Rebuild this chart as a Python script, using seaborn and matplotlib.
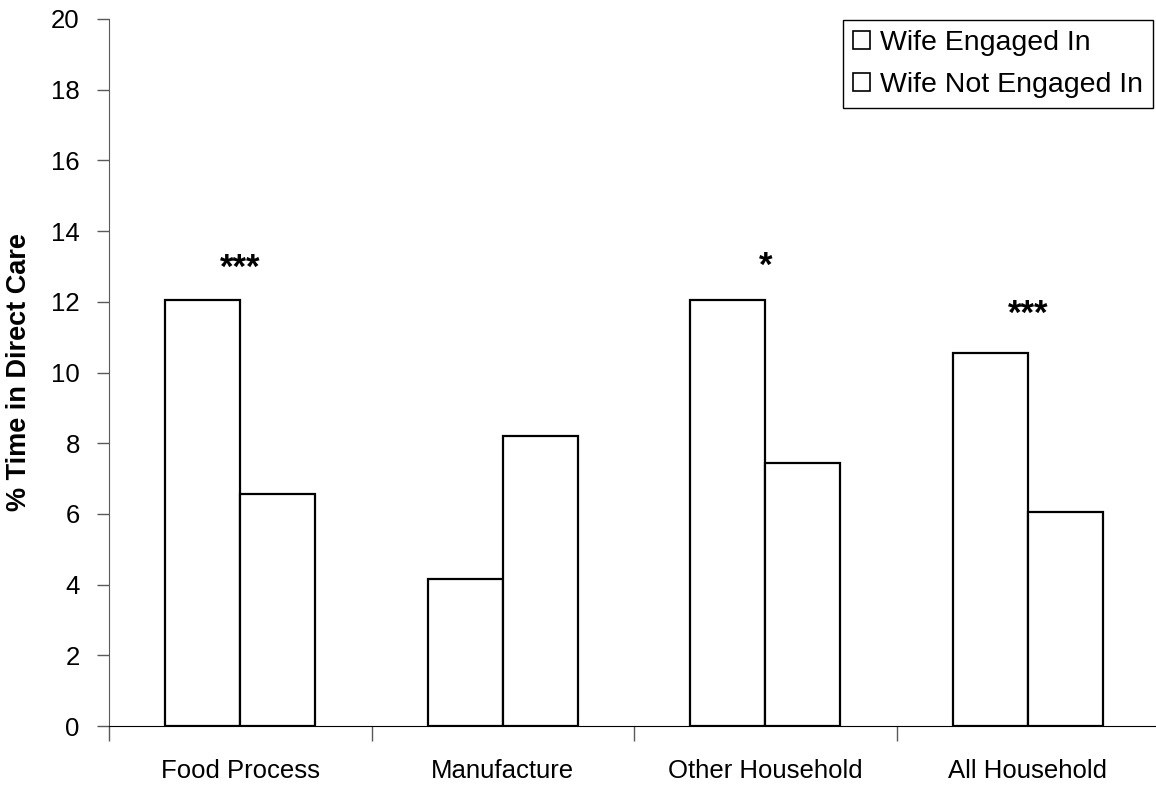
import matplotlib
matplotlib.use("Agg")
import matplotlib.pyplot as plt
from matplotlib.patches import Patch
import pandas as pd
import seaborn as sns

# values
activities = ["Food Process", "Manufacture", "Other Household", "All Household"]
engaged = [12.05, 4.15, 12.05, 10.55]
not_engaged = [6.55, 8.2, 7.45, 6.05]
series = ["Wife Engaged In", "Wife Not Engaged In"]
stars = ["***", "", "*", "***"]
star_y = [12.95, 0, 13.0, 11.65]

sns.set_style("white")
plt.rcParams["font.family"] = ["Liberation Sans", "DejaVu Sans"]
plt.rcParams["text.color"] = "black"
plt.rcParams["xtick.color"] = "black"
plt.rcParams["ytick.color"] = "black"
plt.rcParams["axes.labelcolor"] = "black"

df = pd.DataFrame({
    "activity": activities * 2,
    "pct": engaged + not_engaged,
    "wife": [series[0]] * 4 + [series[1]] * 4,
})

fig = plt.figure(figsize=(11.56, 7.9), dpi=100)
ax = fig.add_axes([109 / 1156, 64 / 790, 1050 / 1156, 707 / 790])
sns.barplot(data=df, x="activity", y="pct", hue="wife", order=activities,
            hue_order=series, palette=["white", "white"], saturation=1,
            edgecolor="black", linewidth=1.6, width=0.57, ax=ax)
ax.get_legend().remove()

# significance markers
for i, s in enumerate(stars):
    if s:
        ax.text(i, star_y[i], s, ha="center", va="center", fontsize=25,
                fontweight="bold")

ax.set_xlim(-0.5, 3.5)
ax.set_ylim(0, 20)
ax.set_yticks(range(0, 21, 2))
ax.tick_params(axis="y", direction="out", length=9, width=1, pad=12,
               labelsize=18.5, left=True, color="0.35")
ax.set_xticks([-0.5, 0.5, 1.5, 2.5, 3.5])
ax.set_xticklabels([])
ax.tick_params(axis="x", which="major", direction="out", length=11, width=1,
               bottom=True, color="0.35")
ax.set_xticks(range(len(activities)), minor=True)
ax.set_xticklabels(activities, minor=True)
ax.tick_params(axis="x", which="minor", length=0, pad=24, labelsize=18.5)
ax.set_xlabel("")
ax.set_ylabel("% Time in Direct Care", fontsize=19.5, fontweight="bold", labelpad=14)

for side in ["top", "right"]:
    ax.spines[side].set_visible(False)
ax.spines["left"].set_color("0.35")
ax.spines["bottom"].set_color("black")

handles = [Patch(facecolor="white", edgecolor="black", linewidth=1.2, label=s)
           for s in series]
leg = fig.legend(handles=handles, loc="upper left",
                 bbox_to_anchor=(843 / 1156, 1 - 20 / 790), fontsize=20.5,
                 frameon=True, fancybox=False, edgecolor="black", framealpha=1,
                 handlelength=0.6, handleheight=0.6, handletextpad=0.35,
                 borderpad=0.35, labelspacing=0.55, borderaxespad=0)
leg.get_frame().set_linewidth(1)

fig.savefig("out.png", dpi=100)
